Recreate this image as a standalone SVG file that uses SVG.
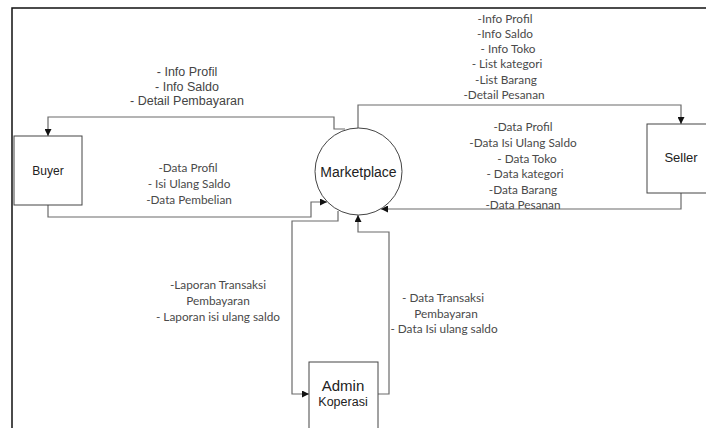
<svg xmlns="http://www.w3.org/2000/svg" width="706" height="428" viewBox="0 0 706 428">
  <style>
    .frame { stroke: #111; stroke-width: 1.5; fill: none; }
    .node { fill: #fff; stroke: #444; stroke-width: 1; }
    .conn { fill: none; stroke: #6a6a6a; stroke-width: 1.2; }
    .nlabel { font-family: "Liberation Sans", Arial, sans-serif; fill: #222; text-anchor: middle; }
    .alabel { font-family: "Liberation Sans", Arial, sans-serif; font-size: 12.5px; fill: #444; text-anchor: middle; }
    .clabel { font-family: Lato, "Open Sans", sans-serif; font-size: 11.8px; fill: #4a4a4a; text-anchor: middle; }
  </style>
  <defs>
    <marker id="arrow" markerUnits="userSpaceOnUse" markerWidth="8" markerHeight="7" refX="7" refY="3.5" orient="auto">
      <path d="M0,0 L7,3.5 L0,7 z" fill="#111"/>
    </marker>
  </defs>
  <rect width="706" height="428" fill="#fff"/>
  <g id="frame">
    <path class="frame" d="M12 428 L12 8 L706 8"/>
  </g>

  <g id="connectors">
    <path class="conn" d="M345 129 L334 129 L334 117 L48 117 L48 136" marker-end="url(#arrow)"/>
    <path class="conn" d="M48 205 L48 217 L311 217 L311 202 L327 202" marker-end="url(#arrow)"/>
    <path class="conn" d="M358 128 L358 105 L681 105 L681 124" marker-end="url(#arrow)"/>
    <path class="conn" d="M681 193 L681 209 L381 209" marker-end="url(#arrow)"/>
    <path class="conn" d="M338 211 L338 221 L292 221 L292 394 L309 394" marker-end="url(#arrow)"/>
    <path class="conn" d="M378 394 L389 394 L389 232 L358 232 L358 215" marker-end="url(#arrow)"/>
  </g>

  <g id="buyer">
    <rect class="node" x="14" y="136" width="68" height="69"/>
    <text class="nlabel" x="48" y="175" font-size="12">Buyer</text>
  </g>
  <g id="marketplace">
    <circle class="node" cx="358.5" cy="171.5" r="43.5"/>
    <text class="nlabel" x="358.5" y="176.5" font-size="14">Marketplace</text>
  </g>
  <g id="seller">
    <rect class="node" x="647" y="124" width="62" height="69"/>
    <text class="nlabel" x="681" y="162" font-size="13">Seller</text>
  </g>
  <g id="admin">
    <rect class="node" x="309" y="362" width="69" height="80"/>
    <text class="nlabel" x="343" y="391" font-size="15" fill="#000">Admin</text>
    <text class="nlabel" x="343" y="406" font-size="12.5">Koperasi</text>
  </g>

  <g id="labels">
    <text class="alabel" x="187" y="76">- Info Profil</text>
    <text class="alabel" x="187" y="91">- Info Saldo</text>
    <text class="alabel" x="187" y="105">- Detail Pembayaran</text>

    <text class="clabel" x="188" y="172">-Data Profil</text>
    <text class="clabel" x="189" y="188">- Isi Ulang Saldo</text>
    <text class="clabel" x="189" y="204">-Data Pembelian</text>

    <text class="clabel" x="505" y="23">-Info Profil</text>
    <text class="clabel" x="505" y="38">-Info Saldo</text>
    <text class="clabel" x="508" y="53">- Info Toko</text>
    <text class="clabel" x="507" y="68">- List kategori</text>
    <text class="clabel" x="506" y="84">-List Barang</text>
    <text class="clabel" x="504" y="99">-Detail Pesanan</text>

    <text class="clabel" x="523" y="131">-Data Profil</text>
    <text class="clabel" x="523" y="147">-Data Isi Ulang Saldo</text>
    <text class="clabel" x="527" y="163">- Data Toko</text>
    <text class="clabel" x="525" y="178">- Data kategori</text>
    <text class="clabel" x="523" y="194">-Data Barang</text>
    <text class="clabel" x="523" y="209">-Data Pesanan</text>

    <text class="clabel" x="218" y="289">-Laporan Transaksi</text>
    <text class="clabel" x="218" y="305">Pembayaran</text>
    <text class="clabel" x="218" y="321">- Laporan isi ulang saldo</text>

    <text class="clabel" x="443" y="302">- Data Transaksi</text>
    <text class="clabel" x="446" y="318">Pembayaran</text>
    <text class="clabel" x="444" y="333">- Data Isi ulang saldo</text>
  </g>
</svg>
